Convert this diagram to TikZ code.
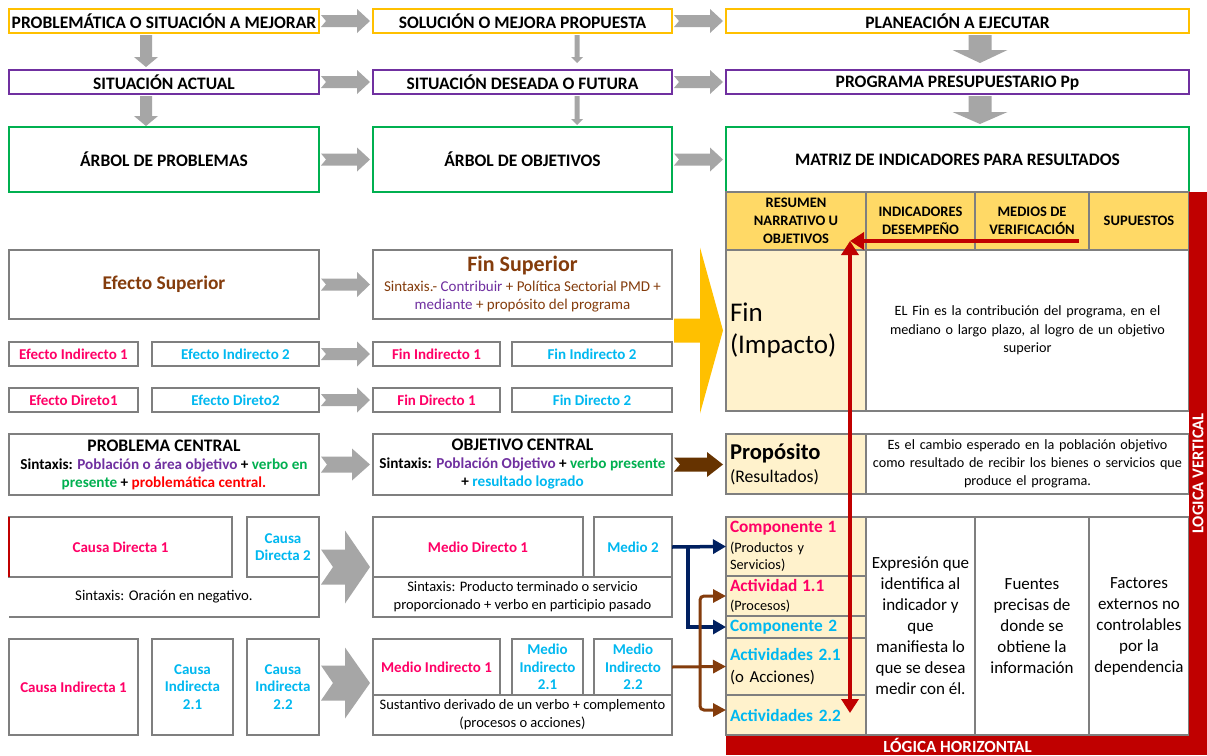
\documentclass[tikz,border=0pt]{standalone}
\usepackage{fontspec}
\setmainfont{Carlito}
\usetikzlibrary{arrows.meta,calc,positioning}

\definecolor{borange}{HTML}{FFC000}
\definecolor{bpurple}{HTML}{7030A0}
\definecolor{bgreen}{HTML}{00B050}
\definecolor{bgray}{HTML}{7F7F7F}
\definecolor{agray}{HTML}{A6A6A6}
\definecolor{hdrfill}{HTML}{FFD966}
\definecolor{cellfill}{HTML}{FFF2CC}
\definecolor{darkred}{HTML}{C00000}
\definecolor{tpink}{HTML}{FF0066}
\definecolor{tcyan}{HTML}{00B8F0}
\definecolor{tbrown}{HTML}{843C0C}
\definecolor{tpurple}{HTML}{7030A0}
\definecolor{tgreen}{HTML}{00B050}
\definecolor{tred}{HTML}{FF0000}
\definecolor{navyblue}{HTML}{002060}
\definecolor{darkbrown}{HTML}{663300}

\newcommand{\fsz}[2]{\fontsize{#1}{#2}\selectfont}

% block arrow pointing right, with notched tail
\newcommand{\blockarrowh}[7]{%
  \fill[#1] let \p1=(#2), \p2=(#3) in
    (\x1+2pt,\y1+#4pt) -- (\x2-#6pt-3pt,\y1+#4pt) -- (\x2-#6pt-3pt,\y1+#5pt)
    -- (\x2-3pt,\y1) -- (\x2-#6pt-3pt,\y1-#5pt) -- (\x2-#6pt-3pt,\y1-#4pt)
    -- (\x1+2pt,\y1-#4pt) -- (\x1+2pt+#7pt,\y1) -- cycle;}
% block arrow pointing down
\newcommand{\blockarrowv}[6]{%
  \fill[#1] let \p1=(#2), \p2=(#3) in
    (\x1-#4pt,\y1-2pt) -- (\x1-#4pt,\y2+#6pt) -- (\x1-#5pt,\y2+#6pt)
    -- (\x1,\y2) -- (\x1+#5pt,\y2+#6pt) -- (\x1+#4pt,\y2+#6pt)
    -- (\x1+#4pt,\y1-2pt) -- cycle;}

\tikzstyle{cell} = [rectangle, draw=bgray, line width=2.5pt, fill=white, inner sep=2pt, outer sep=0pt, align=center]
\tikzstyle{obox} = [cell, draw=borange, inner xsep=0pt, font=\fsz{17.5}{20}\bfseries]
\tikzstyle{pbox} = [cell, draw=bpurple, text depth=0pt, font=\fsz{17.5}{20}\bfseries]
\tikzstyle{gbox} = [cell, draw=bgreen, font=\fsz{17.5}{20}\bfseries]
\tikzstyle{hcell} = [cell, fill=hdrfill, font=\fsz{14.5}{18}\bfseries]
\tikzstyle{ncell} = [cell, fill=cellfill, align=left, text width=132pt, inner xsep=4pt, font=\fsz{14.3}{17}]
\tikzstyle{tag} = [cell, font=\fsz{15}{17.5}\bfseries]
\tikzstyle{note} = [font=\fsz{14.8}{18}]
\tikzstyle{redbar} = [fill=darkred, inner sep=0pt, outer sep=0pt, text=white, font=\fsz{17}{18}\bfseries]
\tikzstyle{garrow} = [fill=agray]
\tikzstyle{yarrow} = [fill=borange]
\tikzstyle{barrow} = [fill=darkbrown]
\tikzstyle{nvarrow} = [draw=navyblue, line width=3.5pt, -{Triangle[length=13pt,width=14pt]}]
\tikzstyle{brarrow} = [draw=tbrown, line width=3pt, rounded corners=4pt, -{Triangle[length=13pt,width=13pt]}]
\tikzstyle{rdarrow} = [draw=darkred, line width=4pt, >={Triangle[length=14pt,width=17pt]}]
\tikzset{sz/.style 2 args={minimum width=#1pt, minimum height=#2pt}}

\begin{document}
\begin{tikzpicture}[x=1pt,y=-1pt]
    \useasboundingbox[fill=white] (0,0) rectangle (1207,755);

    % top rows
    \node (prob) [obox, sz={310}{24}] at (164,21) {PROBLEMÁTICA O SITUACIÓN A MEJORAR};
    \node (sol) [obox, sz={299}{24}] at (522.5,21) {SOLUCIÓN O MEJORA PROPUESTA};
    \node (plan) [obox, sz={463}{24}] at (957.5,21) {PLANEACIÓN A EJECUTAR};
    \node (sitact) [pbox, sz={310}{24}] at (164,82) {SITUACIÓN ACTUAL};
    \node (sitdes) [pbox, sz={299}{24}] at (522.5,82) {SITUACIÓN DESEADA O FUTURA};
    \node (progpp) [pbox, sz={463}{24}] at (957.5,82) {PROGRAMA PRESUPUESTARIO Pp};
    \node (arbprob) [gbox, sz={310}{65}] at (164,159.5) {ÁRBOL DE PROBLEMAS};
    \node (arbobj) [gbox, sz={299}{65}] at (522.5,159.5) {ÁRBOL DE OBJETIVOS};
    \node (mir) [gbox, sz={463}{65}] at (957.5,159.5) {MATRIZ DE INDICADORES PARA RESULTADOS};

    % matrix
    \node (hres) [hcell, sz={140}{58}] at (796,221) {RESUMEN\\NARRATIVO U\\OBJETIVOS};
    \node (hind) [hcell, sz={109}{58}] at (920.5,221) {INDICADORES\\DESEMPEÑO};
    \node (hmed) [hcell, sz={114}{58}] at (1032,221) {MEDIOS DE\\VERIFICACIÓN};
    \node (hsup) [hcell, sz={100}{58}] at (1139,221) {SUPUESTOS};
    \node (finL) [ncell, sz={140}{161}, font=\fsz{27}{32}] at (796,330.5) {Fin\\(Impacto)};
    \node (finR) [cell, sz={323}{161}, text width=310pt, font=\fsz{14.2}{18.5}] at (1027.5,330.5)
        {EL Fin es la contribución del programa, en el\\mediano o largo plazo, al logro de un objetivo\\superior};
    \node (propL) [ncell, sz={140}{60}, font=\fsz{17.7}{23}] at (796,464)
        {{\fsz{22.6}{23}\bfseries Propósito}\\(Resultados)};
    \node (propR) [cell, sz={323}{60}, text width=317pt, font=\fsz{14.2}{18}] at (1027.5,464)
        {Es el cambio esperado en la población objetivo\\como resultado de recibir los bienes o servicios que\\produce el programa.};
    \node (comp1) [ncell, sz={140}{59}] at (796,546.5)
        {{\fsz{17.3}{17}\bfseries\color{tpink}Componente 1}\\[3pt](Productos y\\Servicios)};
    \node (act11) [ncell, sz={140}{40}] at (796,596)
        {{\fsz{17.3}{17}\bfseries\color{tpink}Actividad 1.1}\\[2pt](Procesos)};
    \node (comp2) [ncell, sz={140}{22}, font=\fsz{17.3}{18}\bfseries, text=tcyan] at (796,627) {Componente 2};
    \node (act21) [ncell, sz={140}{57}, font=\fsz{16.8}{22}] at (796,666.5)
        {{\fsz{17.3}{18}\bfseries\color{tcyan}Actividades 2.1}\\(o Acciones)};
    \node (act22) [ncell, sz={140}{40}, font=\fsz{17.3}{18}\bfseries, text=tcyan] at (796,715) {Actividades 2.2};
    \node (indc) [cell, sz={109}{218}, font=\fsz{17}{21}] at (920.5,626)
        {Expresión que\\identifica al\\indicador y\\que\\manifiesta lo\\que se desea\\medir con él.};
    \node (medc) [cell, sz={114}{218}, font=\fsz{17}{21}] at (1032,626)
        {Fuentes\\precisas de\\donde se\\obtiene la\\información};
    \node (supc) [cell, sz={100}{218}, font=\fsz{17}{21}] at (1139,626)
        {Factores\\externos no\\controlables\\por la\\dependencia};
    \node (lv) [redbar, rotate=90, sz={563}{18}, font=\fsz{16.5}{18}\bfseries] at (1198,473.5) {LOGICA VERTICAL};
    \node (lh) [redbar, sz={463}{19}] at (957.5,745.5) {LÓGICA HORIZONTAL};

    % effects and ends
    \node (efsup) [cell, sz={310}{69}, font=\fsz{19.4}{22}\bfseries, text=tbrown] at (164,284.5) {Efecto Superior};
    \node (finsup) [cell, sz={299}{69}, font=\fsz{15}{18}] at (522.5,284.5)
        {{\fsz{22}{22}\bfseries\color{tbrown}Fin Superior}\\[2pt]
         \textcolor{tbrown}{Sintaxis.-} \textcolor{tpurple}{Contribuir} \textcolor{tbrown}{+ Política Sectorial PMD +}\\
         \textcolor{tpurple}{mediante} \textcolor{tbrown}{+ propósito del programa}};
    \node (efi1) [tag, sz={129}{24}, text=tpink] at (73.5,354) {Efecto Indirecto 1};
    \node (efi2) [tag, sz={167}{24}, text=tcyan] at (235.5,354) {Efecto Indirecto 2};
    \node (fini1) [tag, sz={127}{24}, text=tpink] at (436.5,354) {Fin Indirecto 1};
    \node (fini2) [tag, sz={160}{24}, text=tcyan] at (592,354) {Fin Indirecto 2};
    \node (efd1) [tag, sz={129}{24}, text=tpink] at (73.5,400) {Efecto Direto1};
    \node (efd2) [tag, sz={167}{24}, text=tcyan] at (235.5,400) {Efecto Direto2};
    \node (find1) [tag, sz={127}{24}, text=tpink] at (436.5,400) {Fin Directo 1};
    \node (find2) [tag, sz={160}{24}, text=tcyan] at (592,400) {Fin Directo 2};

    % central problem and objective
    \node (probc) [cell, sz={310}{61}, font=\fsz{15.2}{18}\bfseries] at (164,464.5)
        {{\fsz{17.6}{19}\selectfont PROBLEMA CENTRAL}\\
         Sintaxis: \textcolor{tpurple}{Población o área objetivo} + \textcolor{tgreen}{verbo en}\\
         \textcolor{tgreen}{presente} + \textcolor{tred}{problemática central.}};
    \node (objc) [cell, sz={299}{61}, font=\fsz{15.2}{18}\bfseries] at (522.5,464.5)
        {{\fsz{17.6}{19}\selectfont OBJETIVO CENTRAL}\\
         Sintaxis: \textcolor{tpurple}{Población Objetivo} + \textcolor{tgreen}{verbo presente}\\
         + \textcolor{tcyan}{resultado logrado}};

    % causes
    \node (cdir) [sz={310}{100}, inner sep=0pt, outer sep=0pt] at (164,567) {};
    \draw [bgray, line width=2.5pt] (cdir.north east) |- (cdir.south west);
    \node (cd1) [tag, sz={223}{60}, text=tpink] at (120.5,547) {Causa Directa 1};
    \draw [darkred, line width=2.5pt] (cd1.north west) -- (cd1.south west);
    \node (cd2) [tag, sz={72}{60}, text=tcyan] at (283,547) {Causa\\Directa 2};
    \node (csin) [note] at (164,597) {Sintaxis: Oración en negativo.};
    \node (ci1) [tag, sz={129}{96}, text=tpink] at (73.5,687) {Causa Indirecta 1};
    \node (ci21) [tag, sz={81}{96}, text=tcyan] at (192.5,687) {Causa\\Indirecta\\2.1};
    \node (ci22) [tag, sz={72}{96}, text=tcyan] at (283,687) {Causa\\Indirecta\\2.2};

    % means
    \node (md1) [tag, sz={210}{60}, text=tpink] at (478,547) {Medio Directo 1};
    \node (md2) [tag, sz={78}{60}, text=tcyan] at (633,547) {Medio 2};
    \node (msin) [cell, sz={299}{40}, font=\fsz{14.5}{18}] at (522.5,597)
        {Sintaxis: Producto terminado o servicio\\proporcionado + verbo en participio pasado};
    \node (mi1) [tag, sz={127}{56}, text=tpink] at (436.5,667) {Medio Indirecto 1};
    \node (mi21) [tag, sz={71}{56}, text=tcyan] at (547.5,667) {Medio\\Indirecto\\2.1};
    \node (mi22) [tag, sz={78}{56}, text=tcyan] at (633,667) {Medio\\Indirecto\\2.2};
    \node (misin) [cell, sz={299}{40}, font=\fsz{14.5}{18}] at (522.5,715)
        {Sustantivo derivado de un verbo + complemento\\(procesos o acciones)};

    % block arrows
    \blockarrowh{garrow}{prob.east}{sol.west}{6}{12}{13}{5}
    \blockarrowh{garrow}{sol.east}{plan.west}{6}{12}{13}{5}
    \blockarrowh{garrow}{sitact.east}{sitdes.west}{6}{12}{13}{5}
    \blockarrowh{garrow}{sitdes.east}{progpp.west}{6}{12}{13}{5}
    \blockarrowh{garrow}{arbprob.east}{arbobj.west}{6}{12}{13}{5}
    \blockarrowh{garrow}{arbobj.east}{mir.west}{6}{12}{13}{5}
    \blockarrowh{garrow}{efsup.east}{finsup.west}{6}{12.5}{13}{5}
    \blockarrowh{garrow}{efi2.east}{fini1.west}{6}{12.5}{13}{5}
    \blockarrowh{garrow}{efd2.east}{find1.west}{6}{12.5}{13}{5}
    \blockarrowh{garrow}{probc.east}{objc.west}{8}{16}{18}{6}
    \blockarrowh{garrow}{cdir.east}{msin.west}{17.5}{36.5}{25}{12}
    \blockarrowh{garrow}{$(ci22.east)+(0,-4)$}{mi1.west}{17.5}{35.5}{25}{12}
    \blockarrowh{yarrow}{finsup.east |- finL.west}{finL.west}{12}{83}{23}{0}
    \blockarrowh{barrow}{objc.east}{propL.west}{7}{12.5}{16}{6}
    \blockarrowv{garrow}{$(prob.south)+(-18,0)$}{$(sitact.north)+(0,-3)$}{6}{12}{10}
    \blockarrowv{garrow}{$(sitact.south)+(-18,0)$}{$(arbprob.north)+(0,-1)$}{6}{12}{10}
    \blockarrowv{garrow}{$(sol.south)+(54.5,0)$}{$(sitdes.north)+(0,-7)$}{2.5}{6}{6}
    \blockarrowv{garrow}{$(sitdes.south)+(54.5,0)$}{$(arbobj.north)+(0,-2)$}{2.5}{6}{6}
    \blockarrowv{garrow}{$(plan.south)+(22.5,0)$}{$(progpp.north)+(0,-7)$}{11.5}{27.5}{13}
    \blockarrowv{garrow}{$(progpp.south)+(22.5,0)$}{$(mir.north)+(0,-3)$}{11.5}{27.5}{12}

    % means to components and activities
    \coordinate (nvsplit) at ($(md2.east)+(16,0)$);
    \coordinate (brsplit) at ($(mi22.east)+(28,0)$);
    \draw [nvarrow] (md2.east) -- (comp1.west);
    \draw [nvarrow] (nvsplit) |- (comp2.west);
    \draw [brarrow] (mi22.east) -- (act21.west);
    \draw [brarrow] (brsplit) |- (act11.west);
    \draw [brarrow] (brsplit) |- ($(act22.west)+(0,-5)$);

    % vertical and horizontal logic
    \coordinate (vtop) at (850,241);
    \coordinate (vbot) at (850,713);
    \coordinate (htail) at (1079,241);
    \draw [rdarrow, <->] (vbot) -- (vtop);
    \draw [rdarrow, ->] (htail) -- (vtop);
\end{tikzpicture}
\end{document}
